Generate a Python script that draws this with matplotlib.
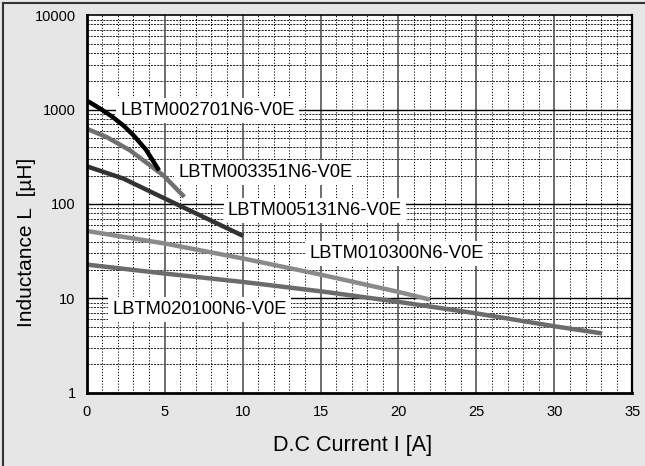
import numpy as np
import matplotlib
matplotlib.use("Agg")
import matplotlib.pyplot as plt
from matplotlib.ticker import FixedLocator, NullFormatter, FixedFormatter
from matplotlib.lines import Line2D

plt.rcParams["font.family"] = ["Liberation Sans", "DejaVu Sans"]

# Inductance vs DC current
i_2701 = [0, 0.85, 1.6, 2.35, 3.0, 3.8, 4.64]
l_2701 = [1250, 1028, 851, 680, 535, 377, 227]

i_3351 = [0, 1.28, 2.78, 4.92, 6.26]
l_3351 = [628, 512, 370, 201, 119]

i_5131 = [0, 2.35, 5.02, 10.05]
l_5131 = [251, 186, 114, 45.8]

i_10300 = [0, 5.02, 10.05, 14.97, 20.0, 22.02]
l_10300 = [51.8, 38.1, 26.4, 17.9, 11.7, 9.7]

i_20100 = [0, 5.02, 10.05, 14.97, 20.0, 25.02, 30.04, 33.07]
l_20100 = [22.8, 18.3, 14.9, 11.9, 9.18, 6.92, 5.05, 4.25]

part_names = ["LBTM002701N6-V0E", "LBTM003351N6-V0E", "LBTM005131N6-V0E",
              "LBTM010300N6-V0E", "LBTM020100N6-V0E"]

x_ticks = [0, 5, 10, 15, 20, 25, 30, 35]
y_ticks = [1, 10, 100, 1000, 10000]
y_tick_labels = ["1", "10", "100", "1000", "10000"]

fig = plt.figure(figsize=(6.45, 4.66), dpi=100, facecolor="#e6e6e6")
ax = fig.add_axes([0.1344, 0.1573, 0.8459, 0.8099])
ax.set_facecolor("white")

ax.set_yscale("log")
ax.set_xlim(0, 35)
ax.set_ylim(1, 10000)

# grid: minor first, then major on top
minor_x = [v for v in range(0, 36) if v % 5 != 0]
minor_y = [m * 10 ** d for d in range(0, 4) for m in range(2, 10)]
for v in minor_x:
    ax.axvline(v, color="black", lw=0.7, linestyle=(0, (1.2, 1.8)), zorder=1)
for v in minor_y:
    ax.axhline(v, color="black", lw=0.6, linestyle=(0, (2.5, 1.3)), zorder=1)
for v in x_ticks[1:-1]:
    ax.axvline(v, color="#555555", lw=1.2, zorder=1.5)
for v in y_ticks[1:-1]:
    ax.axhline(v, color="black", lw=1.0, zorder=1.5)

# part labels with white boxes over the grid
label_pos = [(2.14, 981), (5.86, 216), (9.06, 85.8), (14.28, 29.9), (1.63, 7.63)]
for name, (xp, yp) in zip(part_names, label_pos):
    ax.text(xp, yp, name, fontsize=13.2, ha="left", va="center", zorder=2,
            bbox=dict(facecolor="white", edgecolor="none", pad=3))

# curves above the label boxes
ax.plot(i_20100, l_20100, color="#6b6b6b", lw=3.2, solid_capstyle="butt", zorder=3)
ax.plot(i_10300, l_10300, color="#8a8a8a", lw=3.2, solid_capstyle="butt", zorder=3)
ax.plot(i_5131, l_5131, color="#333333", lw=3.2, solid_capstyle="butt", zorder=3)
ax.plot(i_3351, l_3351, color="#707070", lw=3.2, solid_capstyle="butt", zorder=3)
ax.plot(i_2701, l_2701, color="black", lw=3.2, solid_capstyle="butt", zorder=3)

ax.xaxis.set_major_locator(FixedLocator(x_ticks))
ax.yaxis.set_major_locator(FixedLocator(y_ticks))
ax.yaxis.set_major_formatter(FixedFormatter(y_tick_labels))
ax.yaxis.set_minor_locator(FixedLocator([]))
ax.yaxis.set_minor_formatter(NullFormatter())
ax.tick_params(axis="both", length=0, labelsize=10.5)
ax.tick_params(axis="x", pad=9)
ax.tick_params(axis="y", pad=8)

for side in ["left", "bottom", "right", "top"]:
    ax.spines[side].set_color("black")
    ax.spines[side].set_zorder(5)
ax.spines["left"].set_linewidth(2.0)
ax.spines["bottom"].set_linewidth(2.0)
ax.spines["right"].set_linewidth(1.6)
ax.spines["top"].set_linewidth(1.2)

fig.text(353 / 645, 1 - 445 / 466, "D.C Current I [A]", fontsize=15.5,
         ha="center", va="center")
fig.text(27 / 645, 1 - 242 / 466, "Inductance L  [\u00b5H]", fontsize=15,
         ha="center", va="center", rotation=90)

# outer frame on top and left edge
fig.add_artist(Line2D([3 / 645, 1], [1 - 3 / 466, 1 - 3 / 466], color="#333333", lw=1.5))
fig.add_artist(Line2D([3 / 645, 3 / 645], [0, 1 - 3 / 466], color="#333333", lw=1.5))

fig.savefig("out.png", dpi=100, facecolor=fig.get_facecolor())
